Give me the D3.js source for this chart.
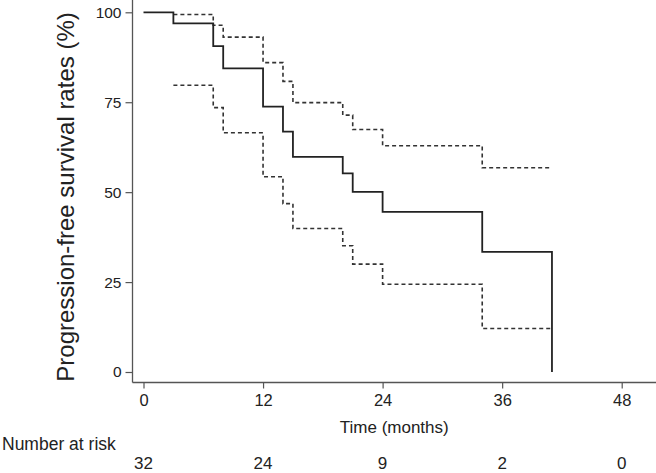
<!DOCTYPE html>
<html>
<head>
<meta charset="utf-8">
<script src="https://cdn.jsdelivr.net/npm/d3@7"></script>
<style>
html,body{margin:0;padding:0;background:#fff;}
svg{display:block;font-family:"Liberation Sans",Arial,sans-serif;}
</style>
</head>
<body>
<svg id="chart" width="656" height="473"></svg>
<script>
// Kaplan-Meier estimate (months, %)
const kmTimes   = [0, 3, 7, 8, 12, 14, 15, 20, 21, 24, 34, 41];
const kmSurv    = [100, 96.9, 90.6, 84.4, 73.8, 66.8, 59.8, 55.2, 50.1, 44.5, 33.4, 0];
// 95% confidence limits
const ciTimes   = [3, 7, 8, 12, 14, 15, 20, 21, 24, 34, 41];
const ciUpper   = [99.4, 96.4, 93.1, 86.0, 80.8, 74.9, 71.4, 67.4, 62.9, 56.8, 56.8];
const ciLower   = [79.7, 73.5, 66.5, 54.3, 46.8, 39.9, 35.1, 30.0, 24.4, 12.1, 12.1];
// axes & risk table
const timeTicks = [0, 12, 24, 36, 48];
const pctTicks  = [0, 25, 50, 75, 100];
const atRisk    = [32, 24, 9, 2, 0];
const yTitle = "Progression-free survival rates (%)";
const xTitle = "Time (months)";
const riskTitle = "Number at risk";

const svg = d3.select("#chart");
const W = 656;
const axisX = 132.5, axisY = 382.5;
const x = d3.scaleLinear().domain([0, 48]).range([143.5, 621.7]);
const y = d3.scaleLinear().domain([0, 100]).range([372, 12.3]);
const ink = "#222";

// axes lines
svg.append("line").attr("x1", axisX).attr("x2", axisX).attr("y1", 0).attr("y2", axisY)
  .attr("stroke", "#555").attr("stroke-width", 1.3);
svg.append("line").attr("x1", axisX).attr("x2", W).attr("y1", axisY).attr("y2", axisY)
  .attr("stroke", "#555").attr("stroke-width", 1.3);

// y axis
const yAxis = d3.axisLeft(y).tickValues(pctTicks).tickSize(7).tickPadding(4).tickFormat(d3.format("d"));
const gy = svg.append("g").attr("transform", `translate(${axisX},0)`).call(yAxis);
gy.select(".domain").remove();
gy.selectAll(".tick line").attr("stroke", "#555").attr("stroke-width", 1.2);
gy.selectAll(".tick text").attr("fill", ink).style("font-size", "15.5px")
  .style("font-family", "'Liberation Sans',Arial,sans-serif");

// x axis
const xAxis = d3.axisBottom(x).tickValues(timeTicks).tickSize(6).tickPadding(6).tickFormat(d3.format("d"));
const gx = svg.append("g").attr("transform", `translate(0,${axisY})`).call(xAxis);
gx.select(".domain").remove();
gx.selectAll(".tick line").attr("stroke", "#555").attr("stroke-width", 1.2);
gx.selectAll(".tick text").attr("fill", ink).style("font-size", "16.5px")
  .style("font-family", "'Liberation Sans',Arial,sans-serif");

// titles
svg.append("text").attr("x", (axisX + W) / 2).attr("y", 433)
  .attr("text-anchor", "middle").attr("fill", ink).style("font-size", "17px").text(xTitle);
svg.append("text").attr("transform", `translate(74,197) rotate(-90)`)
  .attr("text-anchor", "middle").attr("fill", ink).style("font-size", "24px").text(yTitle);

// risk table
svg.append("text").attr("x", 2).attr("y", 450).attr("fill", ink).style("font-size", "17.5px").text(riskTitle);
svg.append("g").selectAll("text").data(atRisk).join("text")
  .attr("x", (d, i) => x(timeTicks[i])).attr("y", 468.5)
  .attr("text-anchor", "middle").attr("fill", ink).style("font-size", "17px").text(d => d);

// curves
const line = d3.line().x(d => x(d[0])).y(d => y(d[1])).curve(d3.curveStepAfter);
const km = kmTimes.map((t, i) => [t, kmSurv[i]]);
const up = ciTimes.map((t, i) => [t, ciUpper[i]]);
const lo = ciTimes.map((t, i) => [t, ciLower[i]]);

[up, lo].forEach(data => {
  svg.append("path").attr("d", line(data)).attr("fill", "none")
    .attr("stroke", "#333").attr("stroke-width", 1.6).attr("stroke-dasharray", "4,3");
});
svg.append("path").attr("d", line(km)).attr("fill", "none")
  .attr("stroke", ink).attr("stroke-width", 1.8);
</script>
</body>
</html>
